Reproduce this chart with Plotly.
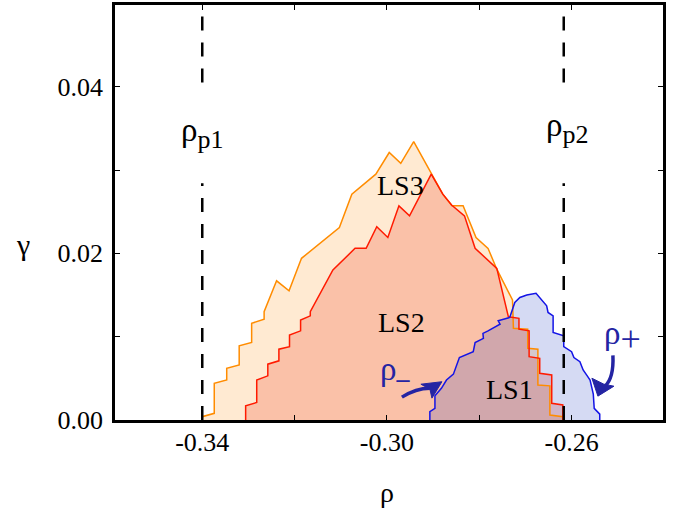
import plotly.graph_objects as go

# ---------------- data ----------------
ls3_rho = [-0.3400, -0.3400, -0.3374, -0.3374, -0.3347, -0.3347, -0.3320, -0.3320, -0.3293, -0.3293,
           -0.3266, -0.3266, -0.3239, -0.3212, -0.3185, -0.3103, -0.3076, -0.3024, -0.2995, -0.2970,
           -0.2942, -0.2906, -0.2879, -0.2859, -0.2835, -0.2807, -0.2781, -0.2762, -0.2728, -0.2726,
           -0.2695, -0.2695, -0.2673, -0.2673, -0.2647, -0.2647, -0.2619, -0.2619]
ls3_gamma = [0.0, 0.0004, 0.0008, 0.0044, 0.0048, 0.0062, 0.0066, 0.0089, 0.0093, 0.0116,
             0.0121, 0.0130, 0.0167, 0.0155, 0.0194, 0.0231, 0.0271, 0.0295, 0.0321, 0.0308,
             0.0334, 0.0299, 0.0271, 0.0257, 0.0257, 0.0219, 0.0206, 0.0181, 0.0144, 0.0110,
             0.0109, 0.0086, 0.0085, 0.0042, 0.0041, 0.0006, 0.0004, 0.0]

ls2_rho = [-0.3306, -0.3306, -0.3282, -0.3282, -0.3258, -0.3258, -0.3234, -0.3234, -0.3211, -0.3211,
           -0.3187, -0.3187, -0.3166, -0.3166, -0.3117, -0.3069, -0.3045, -0.3022, -0.2998, -0.2974,
           -0.2951, -0.2904, -0.2879, -0.2860, -0.2832, -0.2809, -0.2762, -0.2755, -0.2737, -0.2714,
           -0.2714, -0.2692, -0.2692, -0.2669, -0.2669, -0.2643, -0.2643, -0.2619, -0.2619]
ls2_gamma = [0.0, 0.0017, 0.0021, 0.0048, 0.0053, 0.0067, 0.0071, 0.0085, 0.0088, 0.0102,
             0.0107, 0.0120, 0.0125, 0.0130, 0.0180, 0.0206, 0.0206, 0.0232, 0.0219, 0.0257,
             0.0245, 0.0295, 0.0271, 0.0258, 0.0245, 0.0206, 0.0182, 0.0165, 0.0124, 0.0122,
             0.0109, 0.0107, 0.0076, 0.0074, 0.0056, 0.0054, 0.0020, 0.0018, 0.0]

ls1_rho = [-0.2907, -0.2907, -0.2896, -0.2896, -0.2882, -0.2871, -0.2856, -0.2843, -0.2813, -0.2809,
           -0.2791, -0.2792, -0.2781, -0.2766, -0.2755, -0.2759, -0.2734, -0.2723, -0.2712, -0.2697,
           -0.2677, -0.2654, -0.2651, -0.2640, -0.2640, -0.2617, -0.2617, -0.2600, -0.2595, -0.2582,
           -0.2575, -0.2565, -0.2560, -0.2553, -0.2551, -0.2539, -0.2539]
ls1_gamma = [0.0, 0.0010, 0.0014, 0.0029, 0.0038, 0.0048, 0.0055, 0.0075, 0.0082, 0.0093,
             0.0098, 0.0104, 0.0107, 0.0112, 0.0115, 0.0119, 0.0123, 0.0141, 0.0147, 0.0150,
             0.0152, 0.0137, 0.0129, 0.0125, 0.0105, 0.0101, 0.0088, 0.0082, 0.0075, 0.0070,
             0.0060, 0.0052, 0.0048, 0.0031, 0.0014, 0.0007, 0.0]

rho_p1 = -0.3400
rho_p2 = -0.2617

x_major = [-0.34, -0.30, -0.26]
x_major_text = ["-0.34", "-0.30", "-0.26"]
x_minor = [-0.32, -0.28]
y_major = [0.00, 0.02, 0.04]
y_major_text = ["0.00", "0.02", "0.04"]
y_minor = [0.01, 0.03]

# ---------------- styling ----------------
SERIF = "Liberation Serif, Times New Roman, Times, serif"
BLUE_TXT = "#2424a3"

fig = go.Figure()

regions = [
    (ls3_rho, ls3_gamma, "rgba(255,150,30,0.2)", "#ff8c00"),
    (ls2_rho, ls2_gamma, "rgba(230,30,0,0.2)", "#ff1a00"),
    (ls1_rho, ls1_gamma, "rgba(30,60,190,0.19)", "#1414e6"),
]
for xs, ys, fc, lc in regions:
    fig.add_trace(go.Scatter(x=xs + [xs[0]], y=ys + [ys[0]], mode="lines", fill="toself",
                             fillcolor=fc, line=dict(width=0), hoverinfo="skip", showlegend=False))
for xs, ys, fc, lc in regions:
    fig.add_trace(go.Scatter(x=xs, y=ys, mode="lines", line=dict(color=lc, width=1.5),
                             hoverinfo="skip", showlegend=False))

# dashed vertical lines (gap where labels sit)
for xv in (rho_p1, rho_p2):
    for y0, y1 in ((0.0, 0.0284), (0.0405, 0.0498)):
        fig.add_shape(type="line", x0=xv, x1=xv, y0=y0, y1=y1, xref="x", yref="y",
                      line=dict(color="black", width=2.5, dash="14px,12px"))

SUB = '<sub><span style="font-size:{}px">{}</span></sub>'
annotations = [
    dict(x=rho_p1, y=0.0344, text="ρ" + SUB.format(26, "p1"), font=dict(size=33)),
    dict(x=-0.2610, y=0.0350, text="ρ" + SUB.format(26, "p2"), font=dict(size=33)),
    dict(x=-0.2970, y=0.0282, text="LS3", font=dict(size=28)),
    dict(x=-0.2968, y=0.0117, text="LS2", font=dict(size=28)),
    dict(x=-0.2734, y=0.0037, text="LS1", font=dict(size=28)),
    dict(x=-0.2983, y=0.0058, text="ρ" + SUB.format(26, "<b>–</b>"), font=dict(size=33, color=BLUE_TXT)),
    dict(x=-0.2490, y=0.0100, text="ρ" + SUB.format(36, "+"), font=dict(size=33, color=BLUE_TXT)),
]
for a in annotations:
    a.update(xref="x", yref="y", showarrow=False, xanchor="center", yanchor="middle")
    a["font"].setdefault("color", "black")
    a["font"]["family"] = SERIF
    fig.add_annotation(**a)

# axis titles
fig.add_annotation(x=-0.30, y=-0.175, xref="x", yref="paper", text="ρ", showarrow=False,
                   font=dict(family=SERIF, size=28, color="black"), xanchor="center", yanchor="middle")
fig.add_annotation(x=-0.168, y=0.423, xref="paper", yref="paper", text="γ", showarrow=False,
                   font=dict(family=SERIF, size=30, color="black"), xanchor="center", yanchor="middle")

# curved arrows: body (tail, control, end) and notched head (tip, A, notch, B)
arrow_bodies = [
    ((-0.29675, 0.002745), (-0.29372, 0.003819), (-0.29069, 0.003819)),
    ((-0.25105, 0.007756), (-0.25083, 0.005012), (-0.25278, 0.004057)),
]
arrow_heads = [
    ((-0.28809, 0.004594), (-0.29264, 0.004296), (-0.29069, 0.003700), (-0.29025, 0.002625)),
    ((-0.25430, 0.002864), (-0.25560, 0.005012), (-0.25300, 0.004296), (-0.25083, 0.004057)),
]
for (t, c, e) in arrow_bodies:
    fig.add_shape(type="path", xref="x", yref="y",
                  path=f"M {t[0]},{t[1]} Q {c[0]},{c[1]} {e[0]},{e[1]}",
                  line=dict(color=BLUE_TXT, width=3.5))
for (tip, a, n, b) in arrow_heads:
    fig.add_shape(type="path", xref="x", yref="y",
                  path=f"M {tip[0]},{tip[1]} L {a[0]},{a[1]} L {n[0]},{n[1]} L {b[0]},{b[1]} Z",
                  fillcolor=BLUE_TXT, line=dict(color=BLUE_TXT, width=1))

axis_common = dict(showline=True, linecolor="black", linewidth=2.5, mirror="allticks",
                   ticks="inside", ticklen=5, tickwidth=1, tickcolor="black",
                   showgrid=False, zeroline=False,
                   tickfont=dict(family=SERIF, size=26, color="black"))

fig.update_xaxes(range=[-0.3589, -0.2402], tickmode="array", tickvals=x_major,
                 ticktext=x_major_text, ticklabelstandoff=-3,
                 minor=dict(tickmode="array", tickvals=x_minor, ticks="inside", ticklen=5,
                            tickwidth=1, tickcolor="black", showgrid=False),
                 **axis_common)
fig.update_yaxes(range=[0.0, 0.0498], tickmode="array", tickvals=y_major,
                 ticktext=y_major_text, ticklabelstandoff=4,
                 minor=dict(tickmode="array", tickvals=y_minor, ticks="inside", ticklen=5,
                            tickwidth=1, tickcolor="black", showgrid=False),
                 **axis_common)

fig.update_layout(width=677, height=508, margin=dict(l=115, r=14, t=2, b=88),
                  paper_bgcolor="white", plot_bgcolor="white", showlegend=False)

fig.write_html("out.html", config={"displayModeBar": False})
